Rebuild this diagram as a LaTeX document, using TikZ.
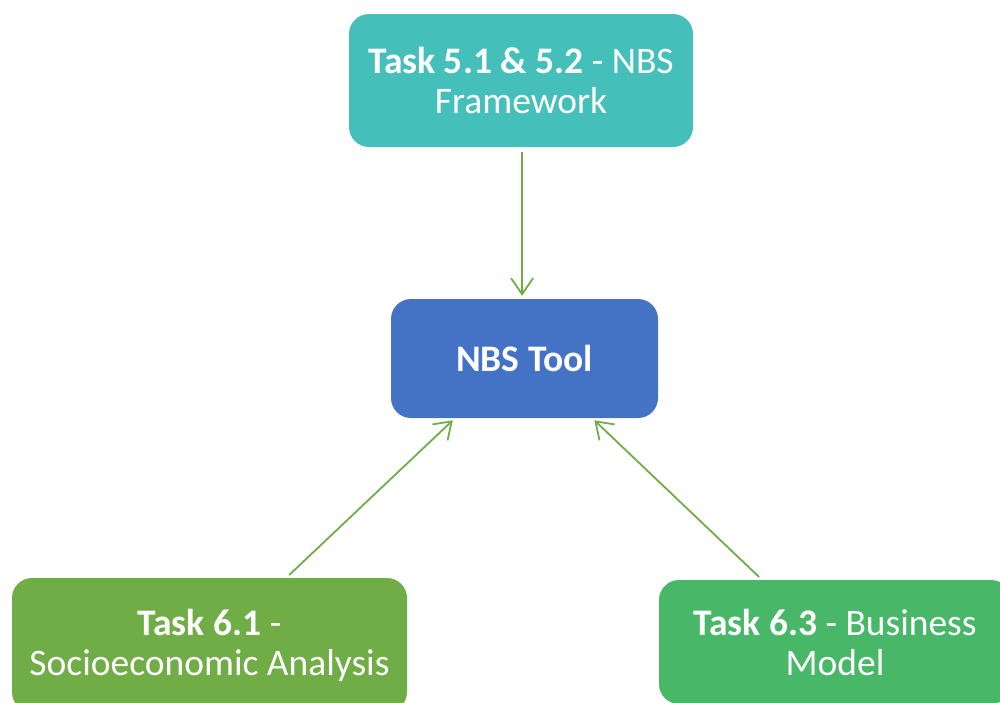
\documentclass[tikz,border=0pt]{standalone}
\usepackage{fontspec}
\setmainfont{Carlito}
\usetikzlibrary{arrows.meta,calc}
\definecolor{tealbox}{HTML}{45BFB9}
\definecolor{bluebox}{HTML}{4472C4}
\definecolor{greenbox}{HTML}{70AD47}
\definecolor{greenbox2}{HTML}{48B767}
\definecolor{linkgreen}{HTML}{70AD47}
\tikzset{
  taskbox/.style={rounded corners=20pt, text=white, align=center, inner sep=0pt,
    font=\fontsize{37.5}{40}\selectfont},
  link/.style={draw=linkgreen, line width=1.8pt,
    -{Straight Barb[length=16pt,width=22pt,line width=1.8pt]}}
}
\begin{document}
\begin{tikzpicture}[x=1pt,y=-1pt]
  \useasboundingbox (0,0) rectangle (1000,702);
  \clip (0,0) rectangle (1000,702);
  \node[taskbox, fill=tealbox, minimum width=344pt, minimum height=133pt]
    (frame) at (521,80.5) {\textbf{Task 5.1 \& 5.2} - NBS\\Framework};
  \node[taskbox, fill=bluebox, minimum width=267pt, minimum height=119pt]
    (tool) at (524.5,358.5) {\textbf{NBS Tool}};
  \node[taskbox, fill=greenbox, minimum width=395pt, minimum height=134pt]
    (socio) at (209.5,645) {\textbf{Task 6.1} -\\Socioeconomic Analysis};
  \node[taskbox, fill=greenbox2, minimum width=352pt, minimum height=124pt]
    (business) at (835,642) {\textbf{Task 6.3} - Business\\Model};
  \draw[link, shorten <=5pt, shorten >=3pt]
    ($(frame.south west)!0.503!(frame.south east)$) --
    ($(tool.north west)!0.491!(tool.north east)$);
  \draw[link, shorten <=4pt, shorten >=3pt]
    ($(socio.north west)!0.694!(socio.north east)$) --
    ($(tool.south west)!0.24!(tool.south east)$);
  \draw[link, shorten <=4pt, shorten >=3pt]
    ($(business.north west)!0.293!(business.north east)$) --
    ($(tool.south west)!0.753!(tool.south east)$);
\end{tikzpicture}
\end{document}
